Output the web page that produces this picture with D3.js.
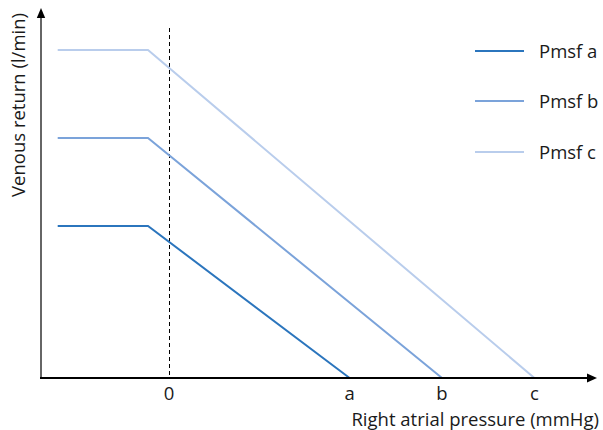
<!DOCTYPE html>
<html>
<head>
<meta charset="utf-8">
<script src="https://cdn.jsdelivr.net/npm/d3@7/dist/d3.min.js"></script>
<style>
  html, body { margin: 0; padding: 0; background: #fff; }
  svg { display: block; }
  text { font-family: "Open Sans", "Noto Sans", sans-serif; fill: #1a1a1a; }
</style>
</head>
<body>
<svg id="chart" width="603" height="430"></svg>
<script>
// Venous return curves for three mean systemic filling pressures
const seriesNames = ["Pmsf a", "Pmsf b", "Pmsf c"];
const seriesColors = ["#2b75bd", "#7ba3da", "#b9cdec"];
// Right atrial pressure points: plateau start, plateau end, zero-flow intercept
const plateauStart = -5.3;
const plateauEnd = -1;
const intercepts = [8.6, 13, 17.4];   // a, b, c
const plateauFlow = [3.8, 6, 8.2];    // venous return on the plateau
const tickLabels = ["0", "a", "b", "c"];
const tickValues = [0, 8.6, 13, 17.4];

const svg = d3.select("#chart");
const x0 = 41, y0 = 378;
const fs = 18.5;

const x = d3.scaleLinear().domain([0, 1]).range([169, 190]);
const y = d3.scaleLinear().domain([0, 1]).range([y0, y0 - 40]);

// Arrow markers
const defs = svg.append("defs");
defs.append("marker").attr("id", "arrX")
  .attr("viewBox", "0 0 10 10").attr("refX", 0).attr("refY", 5)
  .attr("markerWidth", 10).attr("markerHeight", 10).attr("markerUnits", "userSpaceOnUse")
  .attr("orient", "auto")
  .append("path").attr("d", "M0,0.5 L10,5 L0,9.5 Z").attr("fill", "#000");
defs.append("marker").attr("id", "arrY")
  .attr("viewBox", "0 0 10 10").attr("refX", 0).attr("refY", 5)
  .attr("markerWidth", 10).attr("markerHeight", 10).attr("markerUnits", "userSpaceOnUse")
  .attr("orient", "auto")
  .append("path").attr("d", "M0,0.8 L10,5 L0,9.2 Z").attr("fill", "#000");

// Dashed reference at zero pressure
svg.append("line")
  .attr("x1", x(0) + 0.5).attr("x2", x(0) + 0.5)
  .attr("y1", 28).attr("y2", y0)
  .attr("stroke", "#000").attr("stroke-width", 1)
  .attr("stroke-dasharray", "4,3");

// Curves
const line = d3.line().x(d => x(d[0])).y(d => y(d[1]));
seriesNames.forEach((name, i) => {
  const pts = [[plateauStart, plateauFlow[i]], [plateauEnd, plateauFlow[i]], [intercepts[i], 0]];
  svg.append("path")
    .attr("d", line(pts))
    .attr("fill", "none")
    .attr("stroke", seriesColors[i])
    .attr("stroke-width", 2);
});

// Axes
svg.append("line")
  .attr("x1", x0).attr("x2", x0)
  .attr("y1", y0 + 1).attr("y2", 18)
  .attr("stroke", "#666").attr("stroke-width", 2)
  .attr("marker-end", "url(#arrY)");
svg.append("line")
  .attr("x1", x0 - 1).attr("x2", 587)
  .attr("y1", y0).attr("y2", y0)
  .attr("stroke", "#000").attr("stroke-width", 2)
  .attr("marker-end", "url(#arrX)");

// Tick labels
svg.selectAll("text.tick").data(tickLabels).join("text")
  .attr("class", "tick")
  .attr("x", (d, i) => x(tickValues[i]))
  .attr("y", 400)
  .attr("text-anchor", "middle")
  .attr("font-size", fs)
  .text(d => d);

// Axis titles
svg.append("text")
  .attr("x", 599).attr("y", 426)
  .attr("text-anchor", "end")
  .attr("font-size", fs)
  .text("Right atrial pressure (mmHg)");
svg.append("text")
  .attr("transform", "translate(25,105) rotate(-90)")
  .attr("text-anchor", "middle")
  .attr("font-size", fs)
  .text("Venous return (l/min)");

// Legend
const legendY = [51, 101, 152];
seriesNames.forEach((name, i) => {
  svg.append("line")
    .attr("x1", 475).attr("x2", 524)
    .attr("y1", legendY[i]).attr("y2", legendY[i])
    .attr("stroke", seriesColors[i]).attr("stroke-width", 2);
  svg.append("text")
    .attr("x", 539).attr("y", legendY[i] + 7)
    .attr("font-size", fs)
    .text(name);
});
</script>
</body>
</html>
